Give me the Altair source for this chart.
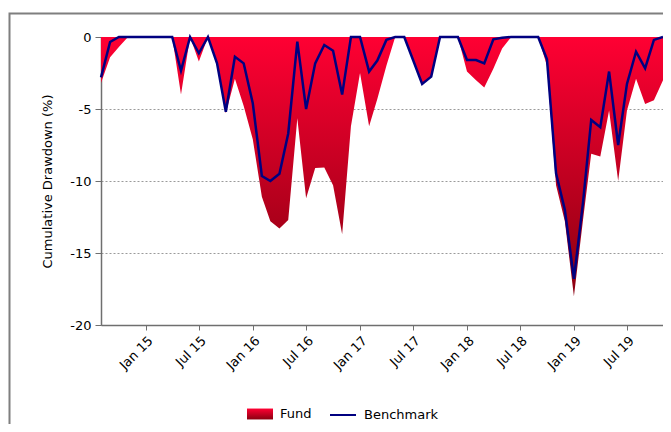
import altair as alt
import pandas as pd

# Month-end observation dates (Jul 2014 .. Oct 2019)
dates = pd.date_range("2014-07-31", periods=64, freq=pd.offsets.MonthEnd()).strftime("%Y-%m-%dT00:00:00").tolist()

fund = [-3.2, -1.4, -0.7, 0, 0, 0, 0, 0, 0, -4.0,
        0, -1.7, 0, -2.0, -5.3, -2.9, -4.8, -7.1, -11.1, -12.8,
        -13.3, -12.7, -5.65, -11.2, -9.1, -9.07, -10.3, -13.7, -6.2, -2.5,
        -6.2, -4.3, -2.0, 0, 0, -1.7, -3.3, -2.8, 0, 0,
        0, -2.4, -3.0, -3.5, -2.2, -0.8, 0, 0, 0, 0,
        -2.0, -10.3, -12.8, -18.0, -12.7, -8.1, -8.3, -5.1, -10.0, -5.1,
        -2.9, -4.65, -4.4, -3.0]

benchmark = [-2.8, -0.35, 0, 0, 0, 0, 0, 0, 0, -2.34,
             0, -1.13, 0, -1.83, -5.19, -1.37, -1.83, -4.6, -9.65, -10.0,
             -9.5, -6.7, -0.32, -5.0, -1.83, -0.56, -0.95, -4.0, 0, 0,
             -2.4, -1.64, -0.2, 0, 0, -1.6, -3.26, -2.75, 0, 0,
             0, -1.6, -1.6, -1.83, -0.16, -0.05, 0, 0, 0, 0,
             -1.55, -9.47, -12.0, -16.8, -11.5, -5.76, -6.27, -2.4, -7.5, -3.26,
             -1.02, -2.18, -0.2, 0]

tick_dates = [(2015, 1), (2015, 7), (2016, 1), (2016, 7), (2017, 1), (2017, 7),
              (2018, 1), (2018, 7), (2019, 1), (2019, 7)]
y_ticks = [0, -5, -10, -15, -20]

fund_df = pd.DataFrame({"date": dates, "value": fund, "series": "Fund"})
bench_df = pd.DataFrame({"date": dates, "value": benchmark, "series": "Benchmark"})

FONT = "DejaVu Sans"
gradient_expr = ("{gradient: 'linear', x1: 0, y1: 0, x2: 0, y2: 1, "
                 "stops: [{offset: 0, color: '#ff0033'}, {offset: 1, color: '#8a0010'}]}")

x_enc = alt.X("date:T", title=None,
              scale=alt.Scale(padding=0),
              axis=alt.Axis(values=[alt.DateTime(year=y, month=m, date=1) for y, m in tick_dates],
                            format="%b %y", labelAngle=-45, grid=False,
                            tickSize=5, labelPadding=4))
y_enc = alt.Y("value:Q", title="Cumulative Drawdown (%)",
              scale=alt.Scale(domain=[-20, 0], nice=False, zero=False),
              axis=alt.Axis(values=y_ticks, grid=True, gridDash=[2, 2], gridColor="#9a9a9a",
                            gridWidth=1, tickSize=6, labelPadding=4, titlePadding=15,
                            labelExpr="'' + datum.value"))

area = alt.Chart(fund_df).mark_area(interpolate="linear", line=False).encode(
    x=x_enc,
    y=y_enc,
    y2=alt.datum(0),
    fill=alt.Fill("series:N",
                  scale=alt.Scale(domain=["Fund"], range=[alt.ExprRef(expr=gradient_expr)]),
                  legend=alt.Legend(title=None, orient="none", legendX=146, legendY=364,
                                    symbolType="M-1,-0.42H1V0.42H-1Z", symbolSize=676,
                                    symbolStrokeWidth=0, labelOffset=7, padding=0)),
)

line = alt.Chart(bench_df).mark_line(strokeWidth=2.5, interpolate="linear").encode(
    x=x_enc,
    y=y_enc,
    stroke=alt.Stroke("series:N",
                      scale=alt.Scale(domain=["Benchmark"], range=["#000080"]),
                      legend=alt.Legend(title=None, orient="none", legendX=228, legendY=364,
                                        symbolType="stroke", symbolSize=676,
                                        symbolStrokeWidth=2, labelOffset=7, padding=0)),
)

frame = alt.Chart(pd.DataFrame({"k": [0]})).mark_rect(
    filled=False, stroke="#7f7f7f", strokeWidth=2
).encode(
    x=alt.value(-91.5), x2=alt.value(800), y=alt.value(-23.5), y2=alt.value(700)
)

chart = alt.layer(frame, area, line).properties(
    width=562, height=288,
    background="white",
    autosize=alt.AutoSizeParams(type="none"),
    padding={"left": 93, "top": 29, "right": 0, "bottom": 99},
).resolve_scale(fill="independent", stroke="independent").configure_view(
    stroke="transparent"
).configure_axis(
    labelFont=FONT, labelFontSize=13, labelColor="#000000",
    titleFont=FONT, titleFontSize=13, titleFontWeight="normal", titleColor="#000000",
    domainColor="#6f6f6f", tickColor="#6f6f6f", domainWidth=1.5,
).configure_legend(
    labelFont=FONT, labelFontSize=13, labelColor="#000000",
)

chart.save("out.html", embed_options={"renderer": "svg", "actions": False})
